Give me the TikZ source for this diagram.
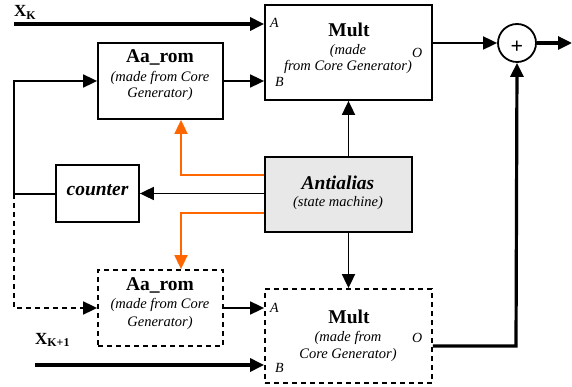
\documentclass[tikz,border=0pt]{standalone}
\usepackage{fontspec}
\setmainfont{Liberation Serif}
\usetikzlibrary{arrows.meta}
\definecolor{ctrl}{RGB}{255,102,0}
\definecolor{smfill}{RGB}{232,232,232}
\begin{document}
\begin{tikzpicture}[x=1pt,y=-1pt,
  >={Triangle[length=14pt,width=13pt]},
  blk/.style={draw,line width=1.8pt,inner sep=0pt},
  dblk/.style={blk,dash pattern=on 5pt off 4pt},
  ttl/.style={anchor=base,inner sep=0pt,font=\fontsize{19.5}{22}\selectfont\bfseries},
  sub/.style={anchor=base,inner sep=0pt,font=\fontsize{14.5}{17}\selectfont\itshape},
  port/.style={anchor=base west,inner sep=0pt,font=\fontsize{14}{16}\selectfont\itshape},
  wire/.style={line width=1.8pt},
  bus/.style={line width=3.2pt},
  ctl/.style={line width=1.8pt,draw=ctrl}]
\useasboundingbox (0,0) rectangle (572,387);

% blocks
\node[blk,minimum width=167pt,minimum height=95pt] (mult) at (348.5,52.5) {};
\node[dblk,minimum width=167pt,minimum height=94pt] (multb) at (348.5,336) {};
\node[blk,fill=smfill,minimum width=147pt,minimum height=75pt] (anti) at (338.5,194.5) {};
\node[blk,minimum width=125pt,minimum height=76pt] (arom) at (160.5,81) {};
\node[dblk,minimum width=125pt,minimum height=76pt] (aromb) at (160.5,308) {};
\node[blk,minimum width=83pt,minimum height=57pt] (cnt) at (97.5,193.5) {};
\node[draw,circle,line width=1.8pt,minimum size=38pt,inner sep=0pt] (sum) at (517,43) {};

% texts of the blocks
\node[ttl] (multT) at (349,36.5) {Mult};
\node[sub] (multS1) at (348,54.5) {(made};
\node[sub] (multS2) at (348,70.5) {from Core Generator)};
\node[port] (multA) at (270,28) {A};
\node[port] (multB) at (275,87) {B};
\node[port] (multO) at (412,58) {O};

\node[ttl] (multbT) at (349,323) {Mult};
\node[sub] (multbS1) at (348,341) {(made from};
\node[sub] (multbS2) at (348,358) {Core Generator)};
\node[port] (multbA) at (270,312) {A};
\node[port] (multbB) at (275,372) {B};
\node[port] (multbO) at (412,342) {O};

\node[ttl,font=\fontsize{19.5}{22}\selectfont\bfseries\itshape] (antiT) at (338,190) {Antialias};
\node[sub] (antiS) at (338,207) {(state machine)};

\node[ttl] (aromT) at (160,63) {Aa\_rom};
\node[sub] (aromS1) at (160,82) {(made from Core};
\node[sub] (aromS2) at (160,98) {Generator)};

\node[ttl] (arombT) at (160,290) {Aa\_rom};
\node[sub] (arombS1) at (160,308) {(made from Core};
\node[sub] (arombS2) at (160,326) {Generator)};

\node[ttl,font=\fontsize{19.5}{22}\selectfont\bfseries\itshape] (cntT) at (97.5,196) {counter};

\node[inner sep=0pt,font=\fontsize{22}{24}\selectfont\bfseries] (plus) at (517,47) {+};

% inputs
\node[anchor=base west,inner sep=0pt,font=\fontsize{17}{20}\selectfont\bfseries] (xk) at (14,17) {X\textsubscript{K}};
\node[anchor=base west,inner sep=0pt,font=\fontsize{17}{20}\selectfont\bfseries] (xk1) at (35,344) {X\textsubscript{K+1}};
\coordinate (xkin) at (14,24);
\coordinate (xk1in) at (35,365);

% feedback corner points
\coordinate (lt) at (14,81);
\coordinate (lm) at (14,194);
\coordinate (lb) at (14,308);
\coordinate (oc1) at (181,175);
\coordinate (oc2) at (181,213);
\coordinate (outp) at (572,43);
\coordinate (rise) at (516,346);

% data path
\draw[bus,->] (xkin) -- (xkin -| mult.west);
\draw[bus,->] (xk1in) -- (xk1in -| multb.west);
\draw[wire,->] (arom.east) -- (arom.east -| mult.west);
\draw[wire,->] (aromb.east) -- (aromb.east -| multb.west);
\draw[wire,->] (mult.east |- sum.west) -- (sum.west);
\draw[bus,->] (sum.east) -- (outp);
\draw[bus,->] (multb.east |- rise) -- (rise) -- (sum.south);

% counter loop
\draw[wire,->] (lm) -- (lt) -- (arom.west);
\draw[wire] (cnt.west |- lm) -- (lm);
\draw[wire,dash pattern=on 5pt off 4pt,->] (lm) -- (lb) -- (aromb.west);
\draw[wire,->] (anti.west |- cnt.east) -- (cnt.east);

% state machine control
\draw[wire,->] (mult.south |- anti.north) -- (mult.south);
\draw[wire,->] (multb.north |- anti.south) -- (multb.north);
\draw[ctl,->] (anti.west |- oc1) -- (oc1) -- (oc1 |- arom.south);
\draw[ctl,->] (anti.west |- oc2) -- (oc2) -- (oc2 |- aromb.north);
\end{tikzpicture}
\end{document}
